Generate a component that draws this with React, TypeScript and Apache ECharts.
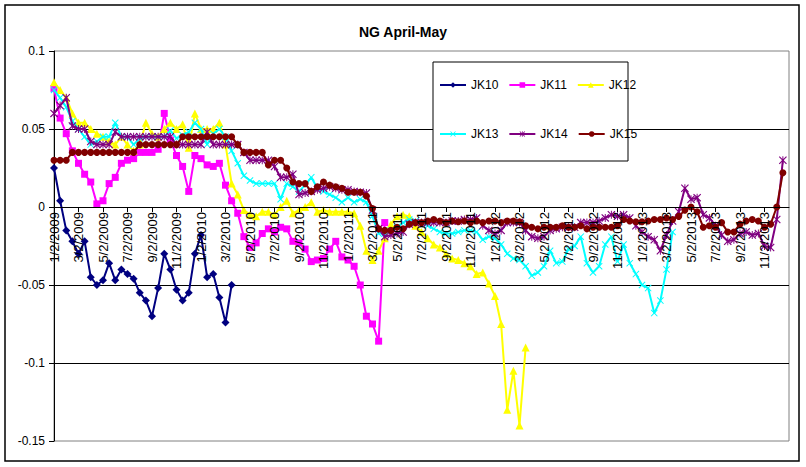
import React, { useEffect, useRef } from "react";
import * as echarts from "echarts";

// Sample grid: values every half month, starting 1/2/2009 (x = months since then)
const SAMPLE_STEP = 0.5;

const xTickLabels = [
  "1/2/2009", "3/2/2009", "5/2/2009", "7/2/2009", "9/2/2009", "11/2/2009",
  "1/2/2010", "3/2/2010", "5/2/2010", "7/2/2010", "9/2/2010", "11/2/2010",
  "1/2/2011", "3/2/2011", "5/2/2011", "7/2/2011", "9/2/2011", "11/2/2011",
  "1/2/2012", "3/2/2012", "5/2/2012", "7/2/2012", "9/2/2012", "11/2/2012",
  "1/2/2013", "3/2/2013", "5/2/2013", "7/2/2013", "9/2/2013", "11/2/2013",
];

const seriesNames = ["JK10", "JK11", "JK12", "JK13", "JK14", "JK15"];

const jk10 = [
  0.025, 0.004, -0.015, -0.022, -0.03, -0.022, -0.045, -0.05, -0.047, -0.036,
  -0.047, -0.04, -0.043, -0.046, -0.055, -0.06, -0.07, -0.052, -0.03, -0.04,
  -0.053, -0.06, -0.055, -0.03, -0.018, -0.045, -0.043, -0.058, -0.074, -0.05,
];

const jk11 = [
  0.076, 0.057, 0.047, 0.036, 0.028, 0.021, 0.016, 0.002, 0.004, 0.015,
  0.019, 0.028, 0.03, 0.031, 0.035, 0.035, 0.035, 0.037, 0.06, 0.043,
  0.033, 0.026, 0.01, 0.033, 0.031, 0.027, 0.026, 0.028, 0.014, 0.004,
  -0.004, -0.019, -0.026, -0.023, -0.017, -0.014, -0.016, -0.013, -0.014, -0.022,
  -0.023, -0.027, -0.035, -0.034, -0.033, -0.027, -0.022, -0.032, -0.034, -0.038,
  -0.05, -0.07, -0.075, -0.086, -0.01,
];

const jk12 = [
  0.08, 0.075, 0.07, 0.06, 0.054, 0.054, 0.05, 0.047, 0.045, 0.042,
  0.04, 0.045, 0.04, 0.036, 0.04, 0.054, 0.047, 0.045, 0.05, 0.054,
  0.05, 0.053, 0.038, 0.06, 0.05, 0.05, 0.05, 0.054, 0.04, 0.015,
  0.008, -0.002, -0.005, -0.006, -0.003, -0.003, -0.005, 0.0, 0.004, -0.004,
  -0.002, 0.0, 0.003, -0.003, -0.002, -0.003, -0.003, -0.003, -0.003, -0.004,
  -0.012, -0.028, -0.034, -0.028, -0.02, -0.011, -0.006, -0.005, -0.006, -0.012,
  -0.016, -0.02, -0.024, -0.026, -0.03, -0.033, -0.034, -0.036, -0.038, -0.043,
  -0.042, -0.049, -0.057, -0.075, -0.13, -0.105, -0.14, -0.09,
];

const jk13 = [
  0.075, 0.07, 0.064, 0.055, 0.05, 0.045, 0.04, 0.042, 0.045, 0.045,
  0.054, 0.045, 0.045, 0.04, 0.044, 0.045, 0.045, 0.045, 0.045, 0.049,
  0.044, 0.046, 0.048, 0.054, 0.05, 0.04, 0.047, 0.05, 0.045, 0.036,
  0.028, 0.02, 0.017, 0.015, 0.015, 0.015, 0.015, 0.005, 0.015, 0.013,
  0.01, 0.014, 0.019, 0.012, 0.01, 0.008, 0.006, 0.003, 0.006, 0.003,
  0.005, 0.003, -0.006, -0.017, -0.017, -0.015, -0.013, -0.01, -0.008, -0.009,
  -0.01, -0.012, -0.014, -0.016, -0.017, -0.017, -0.016, -0.015, -0.015, -0.016,
  -0.021, -0.019, -0.02, -0.024, -0.03, -0.033, -0.034, -0.038, -0.044, -0.042,
  -0.038, -0.028, -0.036, -0.035, -0.027, -0.025, -0.019, -0.036, -0.042, -0.038,
  -0.024, -0.019, -0.035, -0.024, -0.036, -0.043, -0.05, -0.052, -0.068, -0.06,
  -0.04, -0.016,
];

const jk14 = [
  0.06, 0.065, 0.07, 0.052, 0.05, 0.05, 0.042, 0.04, 0.04, 0.04,
  0.048, 0.045, 0.045, 0.045, 0.045, 0.045, 0.045, 0.045, 0.045, 0.045,
  0.04, 0.04, 0.04, 0.04, 0.04, 0.048, 0.04, 0.04, 0.04, 0.04,
  0.04, 0.035, 0.03, 0.03, 0.03, 0.03, 0.026, 0.019, 0.019, 0.021,
  0.008, 0.009, 0.01, 0.011, 0.012, 0.013, 0.012, 0.011, 0.011, 0.01,
  0.0095, 0.009, -0.002, -0.014, -0.019, -0.018, -0.017, -0.016, -0.011, -0.01,
  -0.01, -0.01, -0.01, -0.01, -0.01, -0.009, -0.009, -0.008, -0.008, -0.007,
  -0.012, -0.015, -0.017, -0.015, -0.01, -0.01, -0.01, -0.015, -0.019, -0.02,
  -0.019, -0.015, -0.014, -0.013, -0.013, -0.013, -0.01, -0.01, -0.01, -0.009,
  -0.007, -0.005, -0.006, -0.005, -0.007, -0.012, -0.016, -0.019, -0.021, -0.028,
  -0.018, -0.009, -0.003, 0.012, 0.005, 0.006, -0.005, -0.007, -0.012, -0.018,
  -0.022, -0.021, -0.017, -0.016, -0.018, -0.017, -0.025, -0.026, -0.008, 0.03,
];

const jk15 = [
  0.03, 0.03, 0.03, 0.035, 0.035, 0.035, 0.035, 0.035, 0.035, 0.035,
  0.035, 0.035, 0.035, 0.035, 0.04, 0.04, 0.04, 0.04, 0.04, 0.04,
  0.04, 0.045, 0.045, 0.045, 0.045, 0.045, 0.045, 0.045, 0.045, 0.045,
  0.04, 0.035, 0.035, 0.035, 0.035, 0.027, 0.03, 0.03, 0.025, 0.016,
  0.015, 0.015, 0.01, 0.013, 0.016, 0.014, 0.013, 0.012, 0.0095, 0.0095,
  0.0095, 0.007, -0.001, -0.014, -0.015, -0.015, -0.013, -0.014, -0.011, -0.01,
  -0.01, -0.009, -0.008, -0.009, -0.01, -0.009, -0.0095, -0.009, -0.01, -0.009,
  -0.01, -0.009, -0.009, -0.01, -0.009, -0.009, -0.0095, -0.012, -0.013, -0.014,
  -0.013, -0.013, -0.013, -0.012, -0.013, -0.013, -0.012, -0.014, -0.013, -0.013,
  -0.013, -0.013, -0.012, -0.008, -0.009, -0.0095, -0.0095, -0.009, -0.008, -0.008,
  -0.007, -0.008, -0.006, -0.002, 0.0, -0.003, -0.013, -0.012, -0.013, -0.01,
  -0.016, -0.016, -0.011, -0.009, -0.008, -0.009, -0.013, -0.011, 0.0, 0.022,
];

const seriesValues = [jk10, jk11, jk12, jk13, jk14, jk15];
const seriesColors = ["#000080", "#FF00FF", "#FFFF00", "#00FFFF", "#800080", "#800000"];

const X_SYMBOL = "path://M0,1L1,0L5,4L9,0L10,1L6,5L10,9L9,10L5,6L1,10L0,9L4,5Z";
const STAR_SYMBOL =
  "path://M0,1L1,0L5,4L9,0L10,1L6,5L10,9L9,10L5,6L1,10L0,9L4,5Z M4.4,0L5.6,0L5.6,10L4.4,10Z";
const seriesSymbols = ["diamond", "rect", "triangle", X_SYMBOL, STAR_SYMBOL, "circle"];
const seriesSymbolSizes = [8, 7, 8, 7, 8, 7];

const Y_MIN = -0.15;
const Y_MAX = 0.1;
const GRID_TOP = 51;
const GRID_BOTTOM = 26;
const CHART_H = 467;

const FONT = "'Liberation Sans', Arial, sans-serif";

export default function App() {
  const ref = useRef<HTMLDivElement>(null);

  useEffect(() => {
    if (!ref.current) return;
    const chart = echarts.init(ref.current, null, { renderer: "svg" });

    // Excel-style: the category axis crosses the value axis at 0
    const plotH = CHART_H - GRID_TOP - GRID_BOTTOM;
    const zeroOffset = -plotH * ((0 - Y_MIN) / (Y_MAX - Y_MIN));

    const series = seriesNames.map((name, k) => ({
      name,
      type: "line",
      data: seriesValues[k].map((v, i) => [i * SAMPLE_STEP, v]),
      symbol: seriesSymbols[k],
      symbolSize: seriesSymbolSizes[k],
      showAllSymbol: true,
      color: seriesColors[k],
      lineStyle: { color: seriesColors[k], width: 2 },
      itemStyle: { color: seriesColors[k], borderColor: seriesColors[k], borderWidth: 0 },
      z: 2 + k * 0.01,
    }));

    const legendCommon = {
      orient: "horizontal",
      left: 439,
      itemWidth: 26,
      itemHeight: 7,
      itemGap: 10,
      textStyle: { color: "#000", fontSize: 12, fontFamily: FONT },
      backgroundColor: "transparent",
      padding: 0,
      z: 5,
    };

    chart.setOption({
      animation: false,
      backgroundColor: "#fff",
      textStyle: { fontFamily: FONT },
      title: {
        text: "NG April-May",
        left: "center",
        top: 20,
        textStyle: { color: "#000", fontSize: 14, fontWeight: "bold", fontFamily: FONT },
      },
      legend: [
        { ...legendCommon, top: 79, data: seriesNames.slice(0, 3) },
        { ...legendCommon, top: 128, data: seriesNames.slice(3, 6) },
      ],
      graphic: [
        {
          type: "rect",
          z: 3,
          shape: { x: 433, y: 62, width: 195, height: 99 },
          style: { fill: "#fff", stroke: "#000", lineWidth: 1 },
        },
        {
          type: "rect",
          z: 10,
          shape: { x: 5, y: 5, width: 794, height: 456 },
          style: { fill: "none", stroke: "#000", lineWidth: 1.5 },
        },
      ],
      grid: {
        left: 54,
        top: GRID_TOP,
        right: 17,
        bottom: GRID_BOTTOM,
        show: true,
        borderColor: "#808080",
        borderWidth: 1,
        backgroundColor: "transparent",
      },
      xAxis: {
        type: "value",
        min: 0,
        max: 60,
        interval: 2,
        position: "bottom",
        offset: zeroOffset,
        z: 3,
        axisLine: { show: true, onZero: false, lineStyle: { color: "#000", width: 1 } },
        axisTick: { show: true, length: 5, lineStyle: { color: "#000" } },
        splitLine: { show: false },
        axisLabel: {
          rotate: 90,
          margin: 5,
          color: "#000",
          fontSize: 13,
          fontFamily: FONT,
          showMaxLabel: false,
          formatter: (v: number) => xTickLabels[Math.round(v / 2)] ?? "",
        },
      },
      yAxis: {
        type: "value",
        min: Y_MIN,
        max: Y_MAX,
        interval: 0.05,
        axisLine: { show: true, onZero: false, lineStyle: { color: "#000", width: 1 } },
        axisTick: { show: true, length: 5, lineStyle: { color: "#000" } },
        splitLine: {
          show: true,
          showMinLine: false,
          showMaxLine: false,
          lineStyle: { color: "#000", width: 1 },
        },
        axisLabel: {
          margin: 9,
          color: "#000",
          fontSize: 12,
          fontFamily: FONT,
          formatter: (v: number) => String(Math.round(v * 100) / 100),
        },
      },
      series,
    });

    return () => chart.dispose();
  }, []);

  return (
    <div
      ref={ref}
      style={{ position: "absolute", left: 0, top: 0, width: 806, height: 467, background: "#fff" }}
    />
  );
}
